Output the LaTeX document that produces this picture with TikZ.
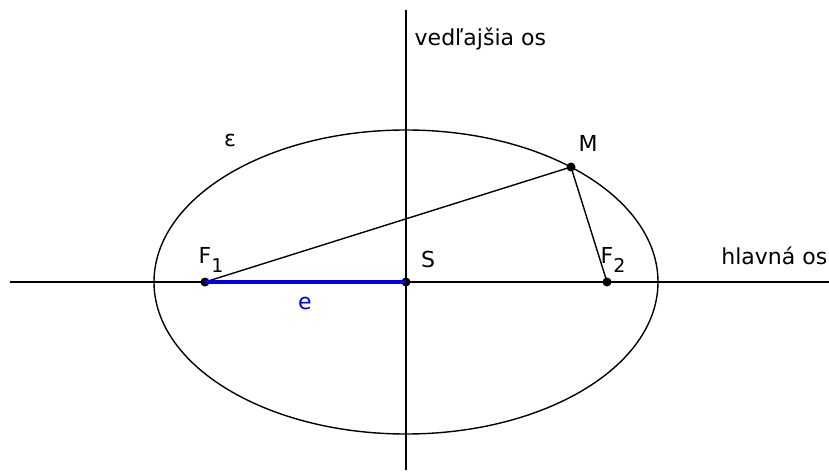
\documentclass[tikz,border=0pt]{standalone}
\usepackage{fontspec}
\setmainfont{DejaVu Sans}
\usetikzlibrary{calc}

\newcommand{\idx}[1]{\raisebox{-0.4em}{\fontsize{19}{21}\selectfont #1}}

\begin{document}
\begin{tikzpicture}[x=1pt, y=1pt, line width=1.4pt,
    every node/.style={font=\fontsize{22}{26}\selectfont},
    pt/.style={circle, fill, inner sep=0pt, minimum size=9pt}]
  \useasboundingbox (-406,-189) rectangle (423,282);
  % axes
  \coordinate (hl) at (-396,0);
  \coordinate (hr) at (440,0);
  \coordinate (vb) at (0,-188);
  \coordinate (vt) at (0,272);
  \draw (hl) -- (hr);
  \draw (vb) -- (vt);
  \node[right, inner sep=1pt] (vos) at (7,243) {vedľajšia os};
  \node[left, inner sep=1pt] (hos) at (423,26) {hlavná os};
  % ellipse
  \draw (0,0) ellipse [x radius=252, y radius=152];
  \node (eps) at (-176,142) {ε};
  % points
  \node[pt] (F1) at (-201,0) {};
  \node[pt] (F2) at (201,0) {};
  \node[pt] (S) at (0,0) {};
  \node[pt] (M) at (165,115) {};
  \draw (F1.center) -- (M.center) -- (F2.center);
  \draw[blue!90!black, line width=4.5pt] (F1.center) -- (S.center);
  \node (lF1) at (-195,22) {F\idx{1}};
  \node (lF2) at (207,22) {F\idx{2}};
  \node (lS) at (22,23) {S};
  \node (lM) at (182,139) {M};
  \node[blue!90!black] (le) at (-101,-21) {e};
\end{tikzpicture}
\end{document}
